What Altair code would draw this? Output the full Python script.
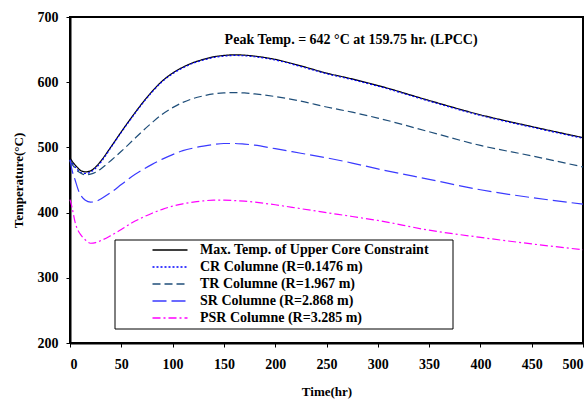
import altair as alt
import pandas as pd

times = [0, 2, 5, 8, 10, 15, 20, 25, 30, 40, 50, 60, 70, 80, 90, 100, 110, 120, 130,
         140, 150, 160, 170, 180, 200, 225, 250, 275, 300, 350, 400, 450, 500]

max_upper = [484, 479, 473, 468, 465, 462.5, 464, 470, 479, 501, 524, 546, 567, 586, 602, 614, 623,
             630, 635, 639, 641, 642, 641.5, 640, 635, 625, 614, 605, 595, 572, 550, 532, 515]
cr = [481, 476, 470, 465, 462, 460, 462, 468, 477, 500, 523, 545, 566, 585, 601, 613, 622,
      629, 634, 638, 640, 641, 640.5, 639, 634, 624, 613, 604, 594, 571, 549, 531, 514]
tr = [479, 474, 468, 463, 461, 458, 459, 462, 467, 480, 494, 509, 524, 538, 551, 561, 569,
      575, 579, 582, 583.5, 584, 583.5, 582, 578, 571, 562, 554, 545, 524, 503, 487, 470]
sr = [481, 465, 450, 435, 428, 419, 416, 417, 421, 431, 443, 455, 465, 474, 482, 489, 495,
      499, 502, 504.5, 506, 506, 505, 503.5, 498, 491, 484, 476, 467, 451, 435, 423, 413]
psr = [420, 408, 385, 372, 367, 358, 353, 354, 357, 365, 374, 384, 392, 399, 405, 410, 413.5,
       416, 418, 419, 419, 418.5, 417.5, 416, 412, 406, 400, 394, 388, 373, 362, 352, 343]

series_names = [
    "Max. Temp. of Upper Core Constraint",
    "CR Columne (R=0.1476 m)",
    "TR Columne (R=1.967 m)",
    "SR Columne (R=2.868 m)",
    "PSR Columne (R=3.285 m)",
]
series_values = [max_upper, cr, tr, sr, psr]
series_colors = ["#000000", "#0000FF", "#1F4E79", "#3A3AFF", "#FF00FF"]
series_dashes = [[1, 0], [2, 2], [8, 4], [14, 5], [8, 3, 2, 3]]

annotation_text = ["Peak Temp. = 642 °C at 159.75 hr. (LPCC)"]
annotation_x = [274]
annotation_y = [665]

x_ticks = [0, 50, 100, 150, 200, 250, 300, 350, 400, 450, 500]
y_ticks = [200, 300, 400, 500, 600, 700]

rows = []
for name, vals in zip(series_names, series_values):
    for t, v in zip(times, vals):
        rows.append({"time": t, "temp": v, "series": name})
df = pd.DataFrame(rows)

FONT = "Liberation Serif"

lines = alt.Chart(df).mark_line(strokeWidth=1.2, interpolate="monotone").encode(
    x=alt.X("time:Q", scale=alt.Scale(domain=[0, 500], nice=False),
            axis=alt.Axis(values=x_ticks, title="Time(hr)", labelPadding=10,
                          tickSize=4, titlePadding=14)),
    y=alt.Y("temp:Q", scale=alt.Scale(domain=[200, 700], nice=False),
            axis=alt.Axis(values=y_ticks, title="Temperature(°C)", labelPadding=8,
                          tickSize=4, titlePadding=12)),
    color=alt.Color("series:N", sort=series_names,
                    scale=alt.Scale(domain=series_names, range=series_colors),
                    legend=alt.Legend(title=None, orient="none", legendX=76, legendY=226,
                                      symbolType="M-5,0H5", symbolSize=49,
                                      symbolOffset=17, symbolStrokeWidth=1.5,
                                      labelOffset=23,
                                      labelFont=FONT, labelFontSize=14,
                                      labelFontWeight="bold", labelLimit=400,
                                      rowPadding=3, padding=0)),
    strokeDash=alt.StrokeDash("series:N", sort=series_names,
                              scale=alt.Scale(domain=series_names, range=series_dashes),
                              legend=None),
    detail="series:N",
)

box = alt.Chart(pd.DataFrame({"k": [0]})).mark_rect(
    fill="white", stroke="black", strokeWidth=1
).encode(x=alt.value(45), x2=alt.value(383), y=alt.value(223), y2=alt.value(312))

ann = alt.Chart(pd.DataFrame({"x": annotation_x, "y": annotation_y, "t": annotation_text})).mark_text(
    font=FONT, fontSize=14, fontWeight="bold", color="black"
).encode(x="x:Q", y="y:Q", text="t:N")

chart = alt.layer(box, lines, ann).properties(
    width=513, height=326,
    autosize=alt.AutoSizeParams(type="none"),
    padding={"left": 70, "top": 17, "right": 3, "bottom": 61},
).configure_view(
    stroke="black", strokeWidth=2
).configure_axis(
    grid=False, domainColor="black", domainWidth=2, tickColor="black",
    labelFont=FONT, labelFontSize=14, labelFontWeight="bold", labelColor="black",
    titleFont=FONT, titleFontSize=13, titleFontWeight="bold", titleColor="black",
)

chart.save("out.html", embed_options={"renderer": "svg", "actions": False})
